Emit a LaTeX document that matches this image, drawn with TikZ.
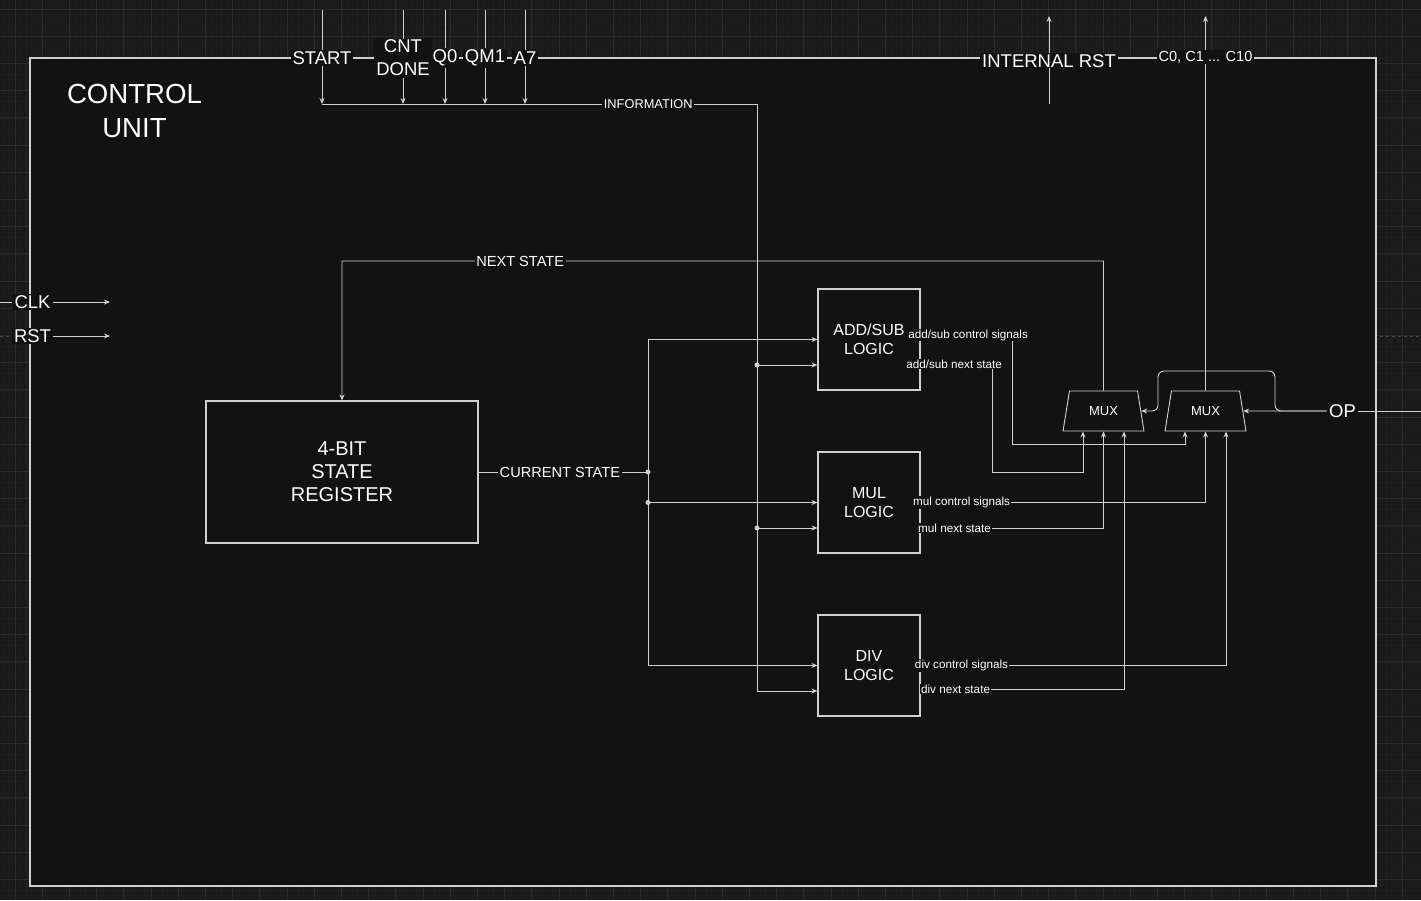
\documentclass[tikz,border=0pt]{standalone}
\usepackage{fontspec}
\setmainfont{Liberation Sans}
\usetikzlibrary{positioning,shapes.geometric,arrows.meta}
\definecolor{bgout}{HTML}{1A1A1A}
\definecolor{bgin}{HTML}{121212}
\definecolor{gridmin}{HTML}{1E1E1E}
\definecolor{gridmaj}{HTML}{2B2B2B}
\definecolor{wire}{HTML}{D0D0D0}
\definecolor{pgbrk}{HTML}{4A4A4A}

\begin{document}
\begin{tikzpicture}[
  x=1pt, y=-1pt,
  line width=0.9pt, color=wire,
  mybox/.style={draw=wire,fill=bgin,line width=1.1pt,align=center,text=white,inner sep=0pt},
  mymux/.style={draw=wire,fill=bgin,trapezium,trapezium angle=73.3,trapezium stretches=true,
    minimum width=81pt,minimum height=40pt,inner sep=0pt,text=white,font=\fontsize{13}{15}\selectfont},
  mylabel/.style={fill=bgin,text=white,inner xsep=2pt,inner ysep=1pt,align=center,font=\fontsize{18.5}{23}\selectfont},
  mymid/.style={fill=bgin,text=white,inner xsep=1.5pt,inner ysep=1pt,font=\fontsize{14.6}{17}\selectfont},
  mysmall/.style={fill=bgin,text=white,inner xsep=1pt,inner ysep=1pt,font=\fontsize{11.7}{14}\selectfont},
  arr/.style={-{Stealth[length=6pt,width=5pt,inset=2pt]}},
  jdot/.style={circle,fill=wire,inner sep=0pt,minimum size=5pt}
]
\useasboundingbox (0,0) rectangle (1421,900);

% background grid
\fill[bgout] (0,0) rectangle (1421,900);
\foreach \i in {0,...,261} \draw[gridmin,line width=0.5pt] ({4.12+5.44*\i},0) -- ++(0,900);
\foreach \i in {0,...,165} \draw[gridmin,line width=0.5pt] (0,{3.56+5.44*\i}) -- ++(1421,0);
\foreach \i in {0,...,52} \draw[gridmaj,line width=0.8pt] ({15+27.2*\i},0) -- ++(0,900);
\foreach \i in {0,...,33} \draw[gridmaj,line width=0.8pt] (0,{9+27.2*\i}) -- ++(1421,0);
\draw[pgbrk,dash pattern=on 3pt off 3pt] (0,336) -- (1421,336);

% control unit frame
\draw[wire,fill=bgin,line width=1.3pt] (30,58) rectangle (1376,886);
\node[text=white,align=center,font=\fontsize{27.6}{34}\selectfont] (title) at (134.5,111) {CONTROL\\UNIT};

% blocks
\node[mybox,minimum width=272pt,minimum height=142pt,font=\fontsize{20}{23}\selectfont] (reg) at (342,472) {4-BIT\\STATE\\REGISTER};
\node[mybox,minimum width=102pt,minimum height=101pt,font=\fontsize{16}{19.5}\selectfont] (addsub) at (869,339.5) {ADD/SUB\\LOGIC};
\node[mybox,minimum width=102pt,minimum height=101pt,font=\fontsize{16}{19.5}\selectfont] (mul) at (869,502.5) {MUL\\LOGIC};
\node[mybox,minimum width=102pt,minimum height=101pt,font=\fontsize{16}{19.5}\selectfont] (div) at (869,665.5) {DIV\\LOGIC};
\node[mymux] (muxa) at (1103.5,411) {MUX};
\node[mymux] (muxb) at (1205.5,411) {MUX};

% inputs from the top
\foreach \x/\nm/\txt in {322/start/START, 403/cnt/{CNT\\DONE}, 445/qz/Q0, 485/qm/QM1, 525/ae/A7}{
  \coordinate (\nm t) at (\x,10);
  \coordinate (\nm b) at (\x,104);
  \node[mylabel] (\nm) at (\x,58) {\txt};
  \draw (\nm t) -- (\nm);
  \draw[arr] (\nm) -- (\nm b);
}

% information bus
\coordinate (busr) at (757,104);
\draw (startb) -- node[mymid,font=\fontsize{12.8}{15}\selectfont,pos=0.75]{INFORMATION} (busr);
\draw[arr] (busr) |- ([yshift=-25.5pt]addsub.west);
\draw[arr] (busr) |- ([yshift=-25.5pt]mul.west);
\draw[arr] (busr) |- ([yshift=-25.5pt]div.west);
\node[jdot] (dinfa) at (757,365) {};
\node[jdot] (dinfb) at (757,528) {};

% clock and reset
\coordinate (clkl) at (0,302);
\coordinate (clkr) at (110,302);
\coordinate (rstr) at (110,336);
\node[mylabel] (clk) at (32.5,302) {CLK};
\node[mylabel] (rst) at (32.5,336) {RST};
\draw (clkl) -- (clk);
\draw[arr] (clk) -- (clkr);
\draw[arr] (rst) -- (rstr);

% outputs at the top
\coordinate (irb) at (1049,104);
\coordinate (irt) at (1049,16);
\draw[arr] (irb) -- node[mylabel,pos=0.49]{INTERNAL RST} (irt);
\coordinate (ctop) at (1205.5,16);
\draw[arr] (muxb.north) -- node[mymid,pos=0.89]{C0, C1 ... C10} (ctop);

% next state feedback
\draw[arr] (muxa.north) -- (1103.5,261) -| node[mymid,pos=0.383]{NEXT STATE} (reg.north);

% current state
\coordinate (csj) at (648,472);
\draw (reg.east) -- node[mymid,pos=0.48]{CURRENT STATE} (csj);
\draw[arr] (csj) |- (addsub.west);
\draw[arr] (csj) |- (mul.west);
\draw[arr] (csj) |- (div.west);
\node[jdot] (dcsa) at (csj) {};
\node[jdot] (dcsb) at (648,502.5) {};

% logic outputs to the muxes
\draw[arr] ([yshift=4.5pt]addsub.east) -- node[mysmall,pos=0.52]{add/sub control signals} (1012,335) -- (1012,444) -| ([xshift=-20.5pt]muxb.south);
\draw[arr] ([yshift=-24.5pt]addsub.east) -- node[mysmall,pos=0.47]{add/sub next state} (992,364) -- (992,472) -| ([xshift=-20.5pt]muxa.south);
\draw[arr] (mul.east) -| node[mysmall,pos=0.072]{mul control signals} (muxb.south);
\draw[arr] ([yshift=-25.5pt]mul.east) -| node[mysmall,pos=0.093]{mul next state} (muxa.south);
\draw[arr] (div.east) -| node[mysmall,pos=0.067]{div control signals} ([xshift=20.5pt]muxb.south);
\draw[arr] ([yshift=-23.5pt]div.east) -| node[mysmall,pos=0.086]{div next state} ([xshift=20.5pt]muxa.south);

% operation select
\coordinate (opr) at (1421,411);
\node[mylabel] (op) at (1342.5,411) {OP};
\draw (opr) -- (op);
\draw[arr] (op) -- (muxb.east);
\draw[arr,rounded corners=6pt] (op) -- (1275,411) |- (1158,371) |- (muxa.east);
\end{tikzpicture}
\end{document}
